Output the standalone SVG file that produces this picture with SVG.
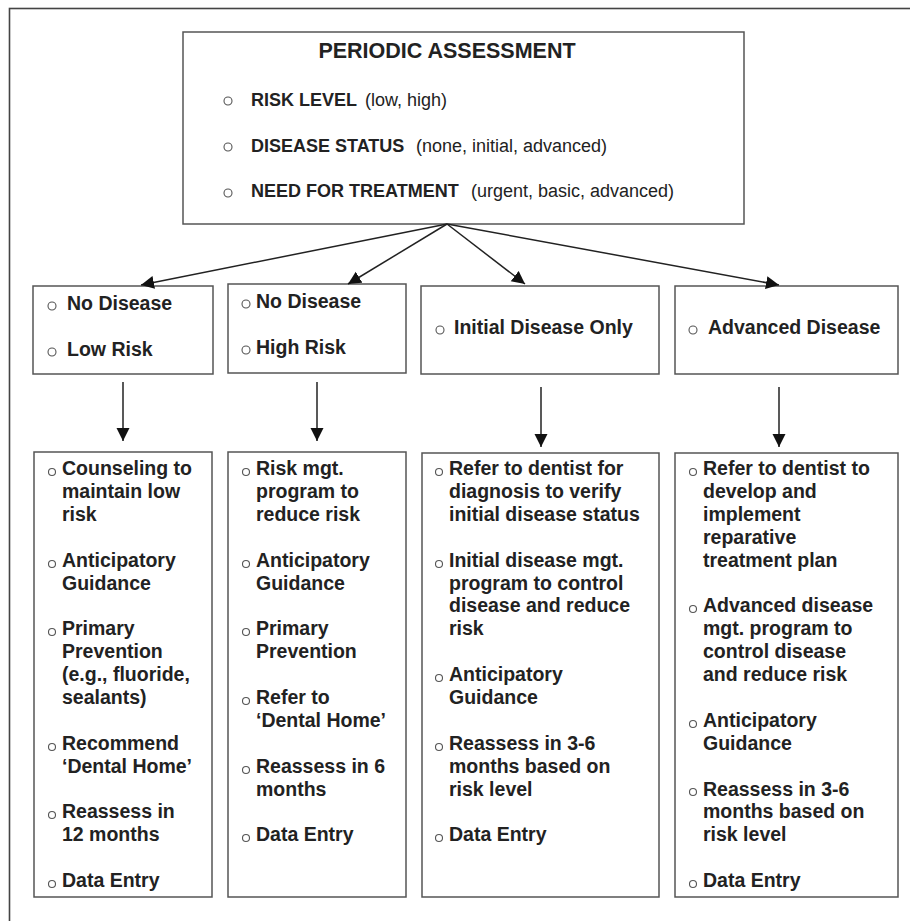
<svg xmlns="http://www.w3.org/2000/svg" width="910" height="921" viewBox="0 0 910 921">
<defs>
<style>
.box{fill:#fff;stroke:#555;stroke-width:1.5}
.frame{fill:none;stroke:#444;stroke-width:1.6}
.bul{fill:#fff;stroke:#555;stroke-width:1.1}
.t{font-family:"Liberation Sans",Arial,sans-serif;fill:#222}
.b{font-weight:bold}
.n{font-weight:normal}
.title{font-size:21.5px;font-weight:bold}
.top{font-size:18px}
.mid{font-size:19.5px;font-weight:bold}
.bot{font-size:19.5px;font-weight:bold}
.con{fill:none;stroke:#222;stroke-width:1.5}
</style>
<marker id="ah" markerUnits="userSpaceOnUse" markerWidth="14" markerHeight="14" viewBox="0 0 14 14" refX="13" refY="7" orient="auto">
<path d="M0,0.5 L13,7 L0,13.5 Z" fill="#111"/>
</marker>
</defs>
<rect width="910" height="921" fill="#fff"/>
<rect class="frame" x="9.5" y="8.5" width="920" height="930"/>

<g id="periodic-assessment">
<rect class="box" x="183" y="32" width="561" height="192"/>
<text class="t title" x="447" y="58" text-anchor="middle">PERIODIC ASSESSMENT</text>
<circle class="bul" cx="228" cy="101" r="4"/>
<text class="t top b" x="251" y="106">RISK LEVEL</text><text class="t top n" x="365" y="106">(low, high)</text>
<circle class="bul" cx="228" cy="147" r="4"/>
<text class="t top b" x="251" y="152">DISEASE STATUS</text><text class="t top n" x="416" y="152">(none, initial, advanced)</text>
<circle class="bul" cx="228" cy="193" r="4"/>
<text class="t top b" x="251" y="197">NEED FOR TREATMENT</text><text class="t top n" x="471" y="197">(urgent, basic, advanced)</text>
</g>

<g id="no-disease-low-risk">
<rect class="box" x="33" y="286" width="180" height="88"/>
<circle class="bul" cx="52" cy="306" r="4"/>
<text class="t mid" x="67" y="310">No Disease</text>
<circle class="bul" cx="52" cy="352" r="4"/>
<text class="t mid" x="67" y="356">Low Risk</text>
</g>

<g id="no-disease-high-risk">
<rect class="box" x="228" y="284" width="178" height="89"/>
<circle class="bul" cx="246" cy="304" r="4"/>
<text class="t mid" x="256" y="308">No Disease</text>
<circle class="bul" cx="246" cy="350" r="4"/>
<text class="t mid" x="256" y="354">High Risk</text>
</g>

<g id="initial-disease">
<rect class="box" x="421" y="286" width="238" height="88"/>
<circle class="bul" cx="440" cy="330" r="4"/>
<text class="t mid" x="454" y="334">Initial Disease Only</text>
</g>

<g id="advanced-disease">
<rect class="box" x="675" y="286" width="223" height="88"/>
<circle class="bul" cx="693" cy="330" r="4"/>
<text class="t mid" x="708" y="334">Advanced Disease</text>
</g>

<g id="low-risk-actions">
<rect class="box" x="34" y="452" width="178" height="445"/>
<g class="bul">
<circle cx="52" cy="472" r="3.5"/>
<circle cx="52" cy="564" r="3.5"/>
<circle cx="52" cy="632" r="3.5"/>
<circle cx="52" cy="747" r="3.5"/>
<circle cx="52" cy="815" r="3.5"/>
<circle cx="52" cy="884" r="3.5"/>
</g>
<text class="t bot">
<tspan x="62" y="475">Counseling to</tspan>
<tspan x="62" y="498">maintain low</tspan>
<tspan x="62" y="521">risk</tspan>
<tspan x="62" y="567">Anticipatory</tspan>
<tspan x="62" y="590">Guidance</tspan>
<tspan x="62" y="635">Primary</tspan>
<tspan x="62" y="658">Prevention</tspan>
<tspan x="62" y="681">(e.g., fluoride,</tspan>
<tspan x="62" y="704">sealants)</tspan>
<tspan x="62" y="750">Recommend</tspan>
<tspan x="62" y="773">‘Dental Home’</tspan>
<tspan x="62" y="818">Reassess in</tspan>
<tspan x="62" y="841">12 months</tspan>
<tspan x="62" y="887">Data Entry</tspan>
</text>
</g>

<g id="high-risk-actions">
<rect class="box" x="228" y="452" width="178" height="445"/>
<g class="bul">
<circle cx="246" cy="472" r="3.5"/>
<circle cx="246" cy="564" r="3.5"/>
<circle cx="246" cy="632" r="3.5"/>
<circle cx="246" cy="701" r="3.5"/>
<circle cx="246" cy="770" r="3.5"/>
<circle cx="246" cy="838" r="3.5"/>
</g>
<text class="t bot">
<tspan x="256" y="475">Risk mgt.</tspan>
<tspan x="256" y="498">program to</tspan>
<tspan x="256" y="521">reduce risk</tspan>
<tspan x="256" y="567">Anticipatory</tspan>
<tspan x="256" y="590">Guidance</tspan>
<tspan x="256" y="635">Primary</tspan>
<tspan x="256" y="658">Prevention</tspan>
<tspan x="256" y="704">Refer to</tspan>
<tspan x="256" y="727">‘Dental Home’</tspan>
<tspan x="256" y="773">Reassess in 6</tspan>
<tspan x="256" y="796">months</tspan>
<tspan x="256" y="841">Data Entry</tspan>
</text>
</g>

<g id="initial-disease-actions">
<rect class="box" x="422" y="453" width="237" height="444"/>
<g class="bul">
<circle cx="439" cy="472" r="3.5"/>
<circle cx="439" cy="564" r="3.5"/>
<circle cx="439" cy="678" r="3.5"/>
<circle cx="439" cy="747" r="3.5"/>
<circle cx="439" cy="838" r="3.5"/>
</g>
<text class="t bot">
<tspan x="449" y="475">Refer to dentist for</tspan>
<tspan x="449" y="498">diagnosis to verify</tspan>
<tspan x="449" y="521">initial disease status</tspan>
<tspan x="449" y="567">Initial disease mgt.</tspan>
<tspan x="449" y="590">program to control</tspan>
<tspan x="449" y="612">disease and reduce</tspan>
<tspan x="449" y="635">risk</tspan>
<tspan x="449" y="681">Anticipatory</tspan>
<tspan x="449" y="704">Guidance</tspan>
<tspan x="449" y="750">Reassess in 3-6</tspan>
<tspan x="449" y="773">months based on</tspan>
<tspan x="449" y="796">risk level</tspan>
<tspan x="449" y="841">Data Entry</tspan>
</text>
</g>

<g id="advanced-disease-actions">
<rect class="box" x="675" y="453" width="223" height="444"/>
<g class="bul">
<circle cx="693" cy="472" r="3.5"/>
<circle cx="693" cy="609" r="3.5"/>
<circle cx="693" cy="724" r="3.5"/>
<circle cx="693" cy="792" r="3.5"/>
<circle cx="693" cy="884" r="3.5"/>
</g>
<text class="t bot">
<tspan x="703" y="475">Refer to dentist to</tspan>
<tspan x="703" y="498">develop and</tspan>
<tspan x="703" y="521">implement</tspan>
<tspan x="703" y="544">reparative</tspan>
<tspan x="703" y="567">treatment plan</tspan>
<tspan x="703" y="612">Advanced disease</tspan>
<tspan x="703" y="635">mgt. program to</tspan>
<tspan x="703" y="658">control disease</tspan>
<tspan x="703" y="681">and reduce risk</tspan>
<tspan x="703" y="727">Anticipatory</tspan>
<tspan x="703" y="750">Guidance</tspan>
<tspan x="703" y="796">Reassess in 3-6</tspan>
<tspan x="703" y="818">months based on</tspan>
<tspan x="703" y="841">risk level</tspan>
<tspan x="703" y="887">Data Entry</tspan>
</text>
</g>

<g id="connectors">
<path class="con" d="M447,224 L141,285" marker-end="url(#ah)"/>
<path class="con" d="M447,224 L348,284" marker-end="url(#ah)"/>
<path class="con" d="M447,224 L525,284" marker-end="url(#ah)"/>
<path class="con" d="M447,224 L779,285" marker-end="url(#ah)"/>
<path class="con" d="M123,382 L123,441" marker-end="url(#ah)"/>
<path class="con" d="M317,382 L317,441" marker-end="url(#ah)"/>
<path class="con" d="M541,387 L541,447" marker-end="url(#ah)"/>
<path class="con" d="M779,387 L779,447" marker-end="url(#ah)"/>
</g>
</svg>
